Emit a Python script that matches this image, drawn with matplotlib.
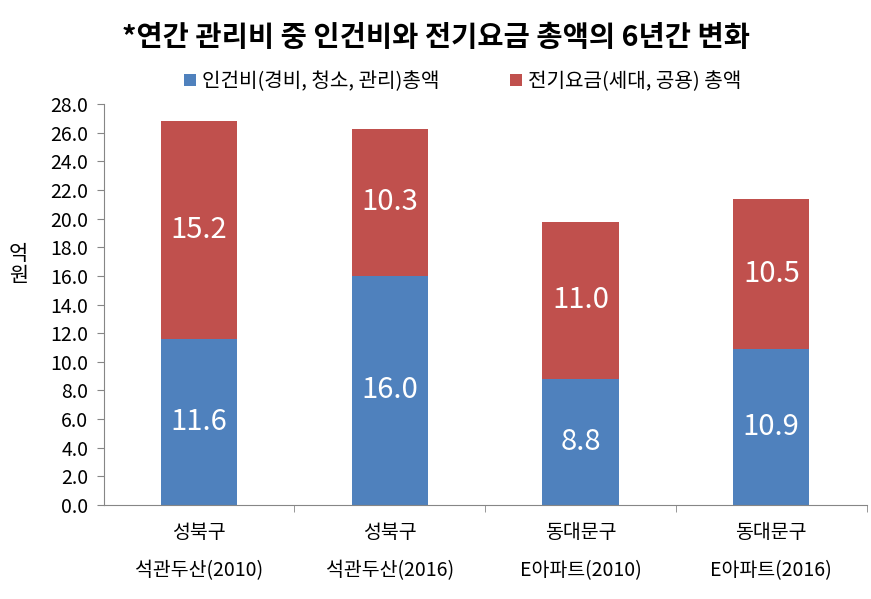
import numpy as np
import matplotlib.pyplot as plt

plt.rcParams['font.family'] = ['Noto Sans CJK KR', 'DejaVu Sans']

categories = ['성북구\n석관두산(2010)', '성북구\n석관두산(2016)', '동대문구\nE아파트(2010)', '동대문구\nE아파트(2016)']
labor = [11.6, 16.0, 8.8, 10.9]
power = [15.2, 10.3, 11.0, 10.5]
yticks = np.arange(0, 28.1, 2.0)

blue = '#4F81BD'
red = '#C0504D'

fig = plt.figure(figsize=(8.71, 5.99), dpi=100)
ax = fig.add_axes([0.119, 0.157, 0.876, 0.669])

x = np.arange(len(categories))
ax.bar(x, labor, width=0.4, color=blue, label='인건비(경비, 청소, 관리)총액')
ax.bar(x, power, width=0.4, bottom=labor, color=red, label='전기요금(세대, 공용) 총액')

for i in range(len(x)):
    ax.text(x[i], labor[i] / 2, '%.1f' % labor[i], ha='center', va='center', color='white', fontsize=21)
    ax.text(x[i], labor[i] + power[i] / 2, '%.1f' % power[i], ha='center', va='center', color='white', fontsize=21)

ax.set_xlim(-0.5, 3.5)
ax.set_ylim(0, 28)
ax.set_yticks(yticks)
ax.set_yticklabels(['%.1f' % v for v in yticks], fontsize=14)
ax.set_xticks(x)
ax.set_xticklabels(categories, fontsize=14, linespacing=2.1)
ax.set_xticks(np.arange(0.5, 4, 1), minor=True)
ax.tick_params(axis='x', which='major', length=0, pad=12)
ax.tick_params(axis='x', which='minor', length=5, color='#868686')
ax.tick_params(axis='y', length=5, color='#868686', pad=6)
ax.spines['top'].set_visible(False)
ax.spines['right'].set_visible(False)
ax.spines['left'].set_color('#868686')
ax.spines['bottom'].set_color('#868686')
fig.text(0.021, 0.557, '억\n원', ha='center', va='center', fontsize=15, linespacing=1.0)

ax.legend(loc='lower center', bbox_to_anchor=(0.47, 0.985), ncol=2, frameon=False,
          fontsize=14.5, handlelength=0.6, handleheight=0.6, handletextpad=0.3, columnspacing=3.5)
fig.text(0.5, 0.937, '*연간 관리비 중 인건비와 전기요금 총액의 6년간 변화', ha='center', va='center',
         fontsize=20.5, fontweight='bold')

plt.savefig('out.png', dpi=100)
